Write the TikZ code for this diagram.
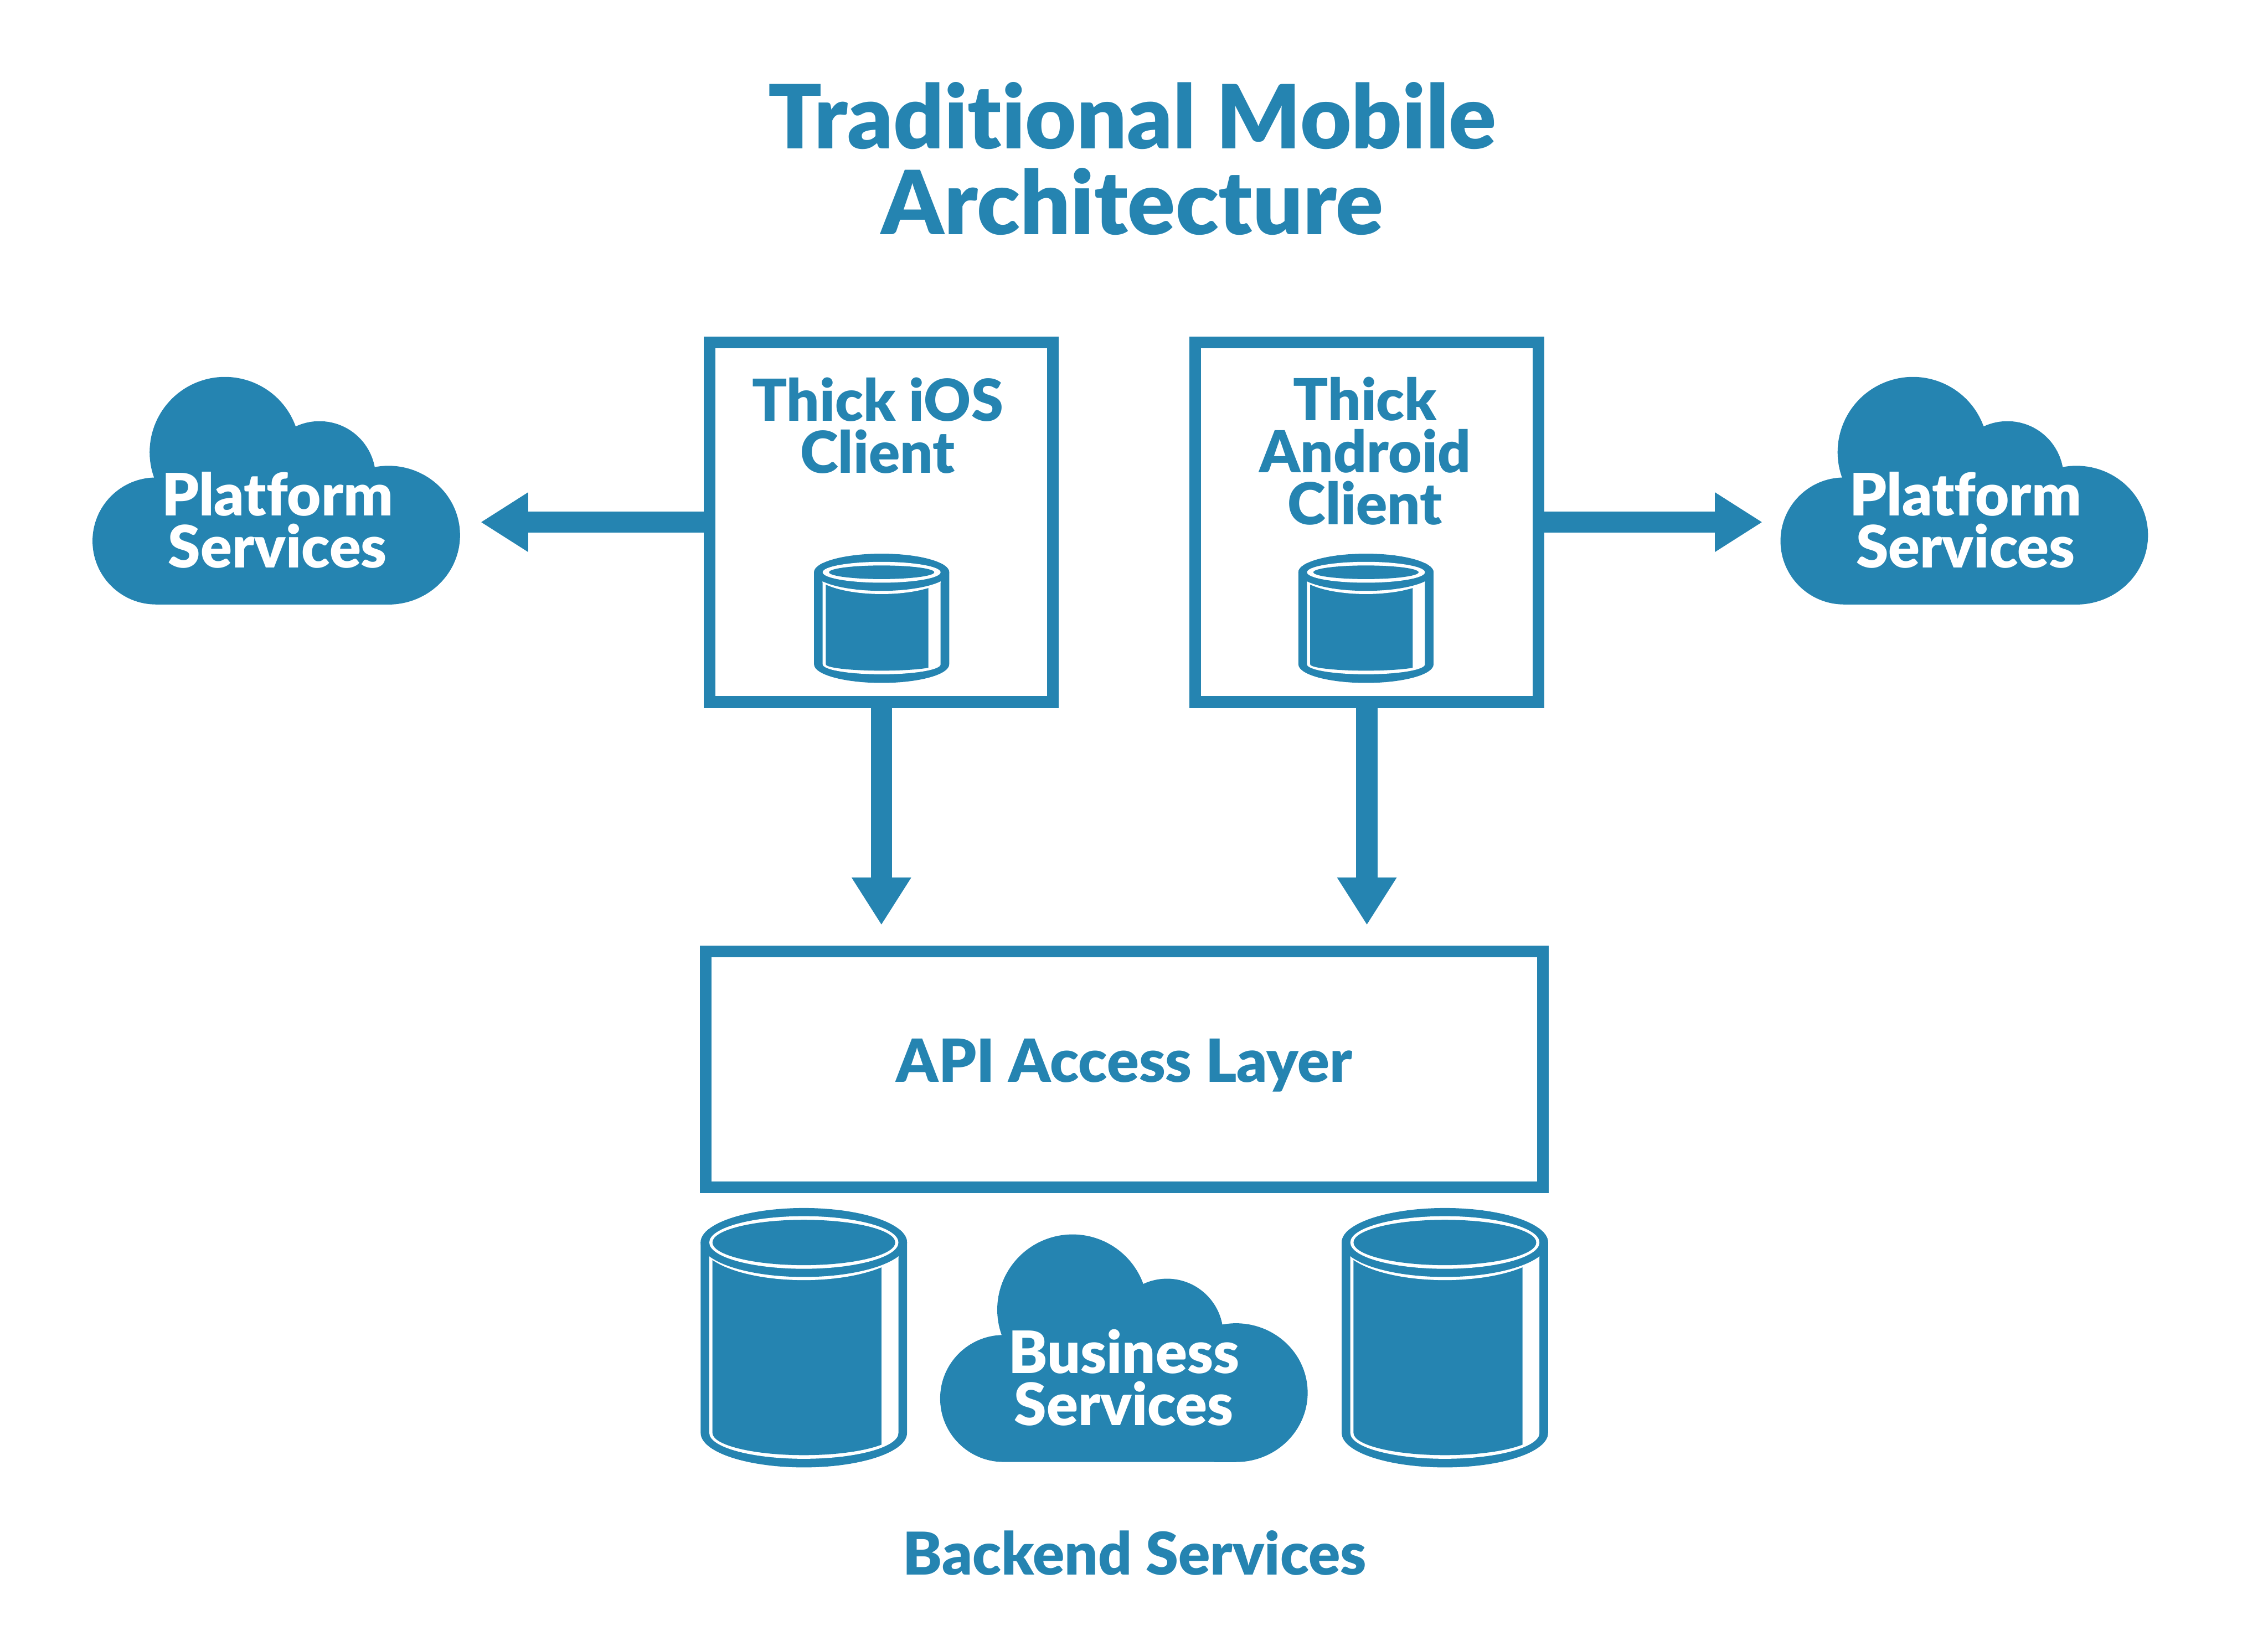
\documentclass[tikz,border=0pt]{standalone}
\usepackage{fontspec}
\setmainfont{Lato}[BoldFont={Lato Black},Ligatures=NoCommon]
\usetikzlibrary{arrows.meta}
\definecolor{archblue}{RGB}{37,132,177}
\tikzset{
  titletext/.style={text=archblue, align=center, font=\fontsize{55.5}{53.6}\selectfont\bfseries},
  clientbox/.style={rectangle, draw=archblue, line width=0.26cm, minimum width=7.57cm, minimum height=7.93cm},
  apibox/.style={rectangle, draw=archblue, line width=0.26cm, text=archblue, minimum width=18.46cm, minimum height=5.2cm, text depth=0.4cm, font=\fontsize{37.3}{33}\selectfont\bfseries},
  clienttext/.style={text=archblue, align=center, inner sep=0pt, font=\fontsize{36.3}{32.7}\selectfont\bfseries},
  cloudtext/.style={text=white, align=center, inner sep=0pt, minimum width=8.1cm, font=\fontsize{36.7}{32.7}\selectfont\bfseries},
  caption/.style={text=archblue, font=\fontsize{37}{33}\selectfont\bfseries},
  bigarrow/.style={line width=0.47cm, draw=archblue, -{Triangle[length=1.05cm,width=1.24cm]}},
  bluecloud/.pic={
    \fill[archblue] (3.44,-13.33) arc[start angle=270,end angle=90,radius=1.40]
      -- (3.40,-10.54) arc[start angle=200,end angle=20,radius=1.66]
      arc[start angle=115,end angle=10.6,radius=1.24]
      arc[start angle=101,end angle=-90,x radius=1.58,y radius=1.53] -- cycle;
  }
}
% #1 centre x, #2 top ellipse y, #3 rx, #4 ry, #5 bottom ellipse y, #6 ring gap, #7 body right offset
\newcommand{\dbdrum}[7]{
  \def\drumsil##1##2{({#1-(##1)},#2) arc[start angle=180,end angle=0,x radius={##1},y radius=#4] -- ({#1+(##1)},#5) arc[start angle=360,end angle=180,x radius={##1},y radius={##2}] -- cycle}
  \fill[archblue] \drumsil{#3}{#4};
  \fill[white] \drumsil{#3-0.19}{#4-0.19};
  \begin{scope}
    \clip (#1-#3,#2+1) rectangle (#1+#7,#5-2);
    \fill[archblue] \drumsil{#3-0.26}{#4-0.27};
  \end{scope}
  \begin{scope}
    \clip (#1-#3+0.19,#2+1) rectangle (#1+#3-0.19,#5-2);
    \fill[white] (#1,#2) ellipse[x radius=#3,y radius=#4+0.07];
  \end{scope}
  \fill[archblue] (#1,#2) ellipse[x radius=#3,y radius=#4];
  \fill[white] (#1,#2) ellipse[x radius=#3-0.19,y radius=#4-0.18];
  \fill[archblue] (#1,#2) ellipse[x radius=#3-#6,y radius=#4-0.26];
}
\begin{document}
\begin{tikzpicture}
  \useasboundingbox (0,0) rectangle (50.01,-36.29);
  \node[titletext] (title) at (24.97,-3.5) {Traditional Mobile\\Architecture};

  \node[clientbox] (ios) at (19.435,-11.515) {};
  \node[clientbox] (android) at (30.14,-11.515) {};
  \node[clienttext] (iostext) at (19.35,-9.38) {Thick iOS\\Client};
  \node[clienttext] (androidtext) at (30.10,-9.95) {Thick\\Android\\Client};
  \node[apibox] (api) at (24.79,-23.58) {API Access Layer};

  % drums in the client boxes
  \dbdrum{19.44}{-12.62}{1.49}{0.41}{-14.65}{0.33}{1.03}
  \dbdrum{30.12}{-12.62}{1.49}{0.41}{-14.65}{0.33}{1.03}
  % drums of the backend
  \dbdrum{17.725}{-27.40}{2.275}{0.76}{-31.60}{0.26}{1.71}
  \dbdrum{31.86}{-27.40}{2.275}{0.76}{-31.60}{0.26}{1.71}

  % clouds
  \pic at (0,0) {bluecloud};
  \pic at (37.22,0) {bluecloud};
  \pic at (18.69,-18.91) {bluecloud};
  \node[cloudtext] (cloudleft) at (6.12,-11.47) {Platform\\Services};
  \node[cloudtext] (cloudright) at (43.34,-11.47) {Platform\\Services};
  \node[cloudtext] (cloudback) at (24.78,-30.38) {Business\\Services};

  \node[caption] (backend) at (25.02,-34.25) {Backend Services};

  \draw[bigarrow,shorten >=0.42cm] (ios.west) -- (ios.west -| cloudleft.east);
  \draw[bigarrow,shorten >=0.42cm,shorten <=-0.24cm] (android.east) -- (android.east -| cloudright.west);
  \draw[bigarrow,shorten >=0.45cm] (ios.south) -- (ios.south |- api.north);
  \draw[bigarrow,shorten >=0.45cm] (android.south) -- (android.south |- api.north);
\end{tikzpicture}
\end{document}
